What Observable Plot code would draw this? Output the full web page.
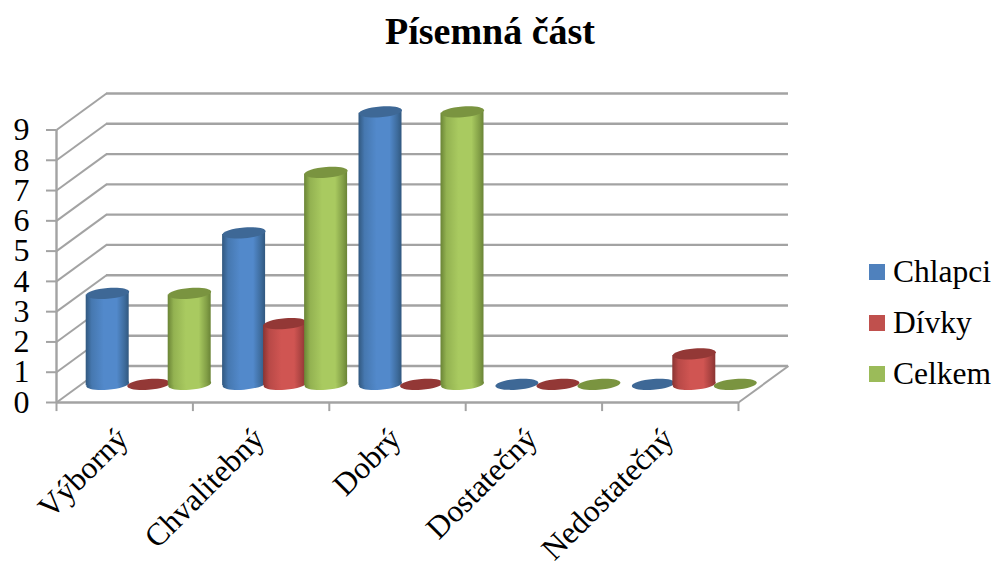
<!DOCTYPE html>
<html>
<head>
<meta charset="utf-8">
<script src="https://cdn.jsdelivr.net/npm/d3@7"></script>
<script src="https://cdn.jsdelivr.net/npm/@observablehq/plot@0.6"></script>
<style>
html,body{margin:0;padding:0;background:#fff;width:995px;height:562px;overflow:hidden;font-family:"Liberation Serif",serif;color:#000}
#title{position:absolute;left:0;top:7px;width:980px;text-align:center;font-weight:bold;font-size:38px;line-height:48px}
#chart{position:absolute;left:0;top:70px}
#legend{position:absolute;left:869px;top:0}
.li{position:absolute;left:0;white-space:nowrap;font-size:31.5px;line-height:36px;height:36px}
.sw{position:absolute;left:0;top:10px;width:16px;height:16px}
.lb{position:absolute;left:24px;top:0}
</style>
</head>
<body>
<div id="title">Písemná část</div>
<div id="chart"></div>
<div id="legend"></div>
<svg width="0" height="0" style="position:absolute">
<defs id="defs"></defs>
</svg>
<script>
const categories = ["Výborný", "Chvalitebný", "Dobrý", "Dostatečný", "Nedostatečný"];
const seriesNames = ["Chlapci", "Dívky", "Celkem"];
const chlapci = [3, 5, 9, 0, 0];
const divky = [0, 2, 0, 0, 1];
const celkem = [3, 7, 9, 0, 0];
const yTicks = [0, 1, 2, 3, 4, 5, 6, 7, 8, 9];
const xTicks = [0, 1, 2, 3, 4, 5];

const legendColors = ["#4f81bd", "#c0504d", "#9bbb59"];
const edgeColors = ["#31587f", "#8a3432", "#6a8436"];
const midColors = ["#5289cb", "#d05552", "#a9ca60"];
const capColors = ["#3e6896", "#933836", "#7a9440"];

// depth of the 3D box, in data units of each scale
const depthX = 50 / 136.4, depthY = 36.5 / 30.3;
const barHalf = 21.5 / 136.4, barStep = 41 / 136.4, tiltY = 1.6 / 30.3, nudgeX = 1 / 136.4;

const defs = document.getElementById("defs");
defs.innerHTML = seriesNames.map((s, i) => `
<linearGradient id="g${i}" x1="0" x2="1" y1="0" y2="0">
<stop offset="0" stop-color="${edgeColors[i]}"/>
<stop offset="0.14" stop-color="${d3.interpolateRgb(edgeColors[i], midColors[i])(0.65)}"/>
<stop offset="0.42" stop-color="${midColors[i]}"/>
<stop offset="0.72" stop-color="${midColors[i]}"/>
<stop offset="0.9" stop-color="${d3.interpolateRgb(edgeColors[i], midColors[i])(0.4)}"/>
<stop offset="1" stop-color="${edgeColors[i]}"/>
</linearGradient>`).join("");

// skewed ellipse used for cylinder ends
const K = 0.5523;
const ellipse = {
  draw(ctx, size) {
    const r = Math.sqrt(size / Math.PI), rx = r, ry = r * 0.25, t = r * 0.075;
    const P = (a, b) => [rx * a, ry * b - t * a];
    const m = P(1, 0);
    ctx.moveTo(m[0], m[1]);
    [[[1, K], [K, 1], [0, 1]], [[-K, 1], [-1, K], [-1, 0]], [[-1, -K], [-K, -1], [0, -1]], [[K, -1], [1, -K], [1, 0]]]
      .forEach(seg => {
        const [a, b, c] = seg.map(p => P(p[0], p[1]));
        ctx.bezierCurveTo(a[0], a[1], b[0], b[1], c[0], c[1]);
      });
    ctx.closePath();
  }
};

const values = [chlapci, divky, celkem];
const cx = (c, s) => c + 0.5 + depthX / 2 + (s - 1) * barStep - nudgeX;
const baseY = depthY / 2;

const barMarks = [];
values.forEach((vals, s) => {
  const rows = vals.map((v, c) => ({v, c, x: cx(c, s)}));
  const nz = rows.filter(d => d.v > 0);
  const body = nz.flatMap(d => [
    {id: d.c, x: d.x - barHalf, y1: baseY - tiltY, y2: baseY + d.v - tiltY},
    {id: d.c, x: d.x + barHalf, y1: baseY + tiltY, y2: baseY + d.v + tiltY}
  ]);
  barMarks.push(
    Plot.dot(nz, {x: "x", y: () => baseY, r: 21.5, symbol: ellipse, fill: `url(#g${s})`, stroke: "none"}),
    Plot.area(body, {x1: "x", y1: "y1", y2: "y2", z: "id", fill: `url(#g${s})`, curve: "linear"}),
    Plot.dot(rows, {x: "x", y: d => baseY + d.v, r: 21.5, symbol: ellipse, fill: capColors[s], stroke: "none"})
  );
});

const gridColor = "#a3a3a3";
const diagLeft = yTicks.map(v => ({x1: 0, y1: v, x2: depthX, y2: v + depthY}));
const plot = Plot.plot({
  width: 995, height: 492,
  marginLeft: 56, marginRight: 257, marginTop: 59.5, marginBottom: 160,
  x: {domain: [0, 5], axis: null},
  y: {domain: [0, 9], axis: null},
  style: {background: "transparent", fontFamily: "Liberation Serif", color: "#000"},
  marks: [
    Plot.ruleY(yTicks, {x1: depthX, x2: 5 + depthX, y: d => d + depthY, stroke: gridColor, strokeWidth: 2.4, strokeOpacity: 1}),
    Plot.link(diagLeft, {x1: "x1", y1: "y1", x2: "x2", y2: "y2", stroke: gridColor, strokeWidth: 2, curve: "linear"}),
    Plot.link([{x1: 5, y1: 0, x2: 5 + depthX, y2: depthY}], {x1: "x1", y1: "y1", x2: "x2", y2: "y2", stroke: gridColor, strokeWidth: 2, curve: "linear"}),
    Plot.ruleY([0], {x1: 0, x2: 5, stroke: gridColor, strokeWidth: 2.4}),
    Plot.ruleX([0], {y1: 0, y2: 9, stroke: gridColor, strokeWidth: 2.4}),
    Plot.ruleX(xTicks, {y1: 0, y2: -0.3, stroke: gridColor, strokeWidth: 2}),
    ...barMarks,
    Plot.axisY({ticks: yTicks, tickSize: 10, tickPadding: 17, stroke: gridColor, strokeWidth: 2, fontSize: 32, tickFormat: d => d, anchor: "left", label: null, fill: "#000", color: "#000"}),
    Plot.axisX({ticks: [0.5, 1.5, 2.5, 3.5, 4.5], tickFormat: d => categories[d - 0.5], tickSize: 0, tickRotate: -45, tickPadding: 31, fontSize: 31.5, dx: -2, anchor: "bottom", label: null, fill: "#000"})
  ]
});
document.getElementById("chart").appendChild(plot);

const legend = document.getElementById("legend");
const legendTops = [254, 305, 356];
seriesNames.forEach((s, i) => {
  const el = document.createElement("div");
  el.className = "li";
  el.style.top = legendTops[i] + "px";
  el.innerHTML = `<span class="sw" style="background:${legendColors[i]}"></span><span class="lb">${s}</span>`;
  legend.appendChild(el);
});
</script>
</body>
</html>
